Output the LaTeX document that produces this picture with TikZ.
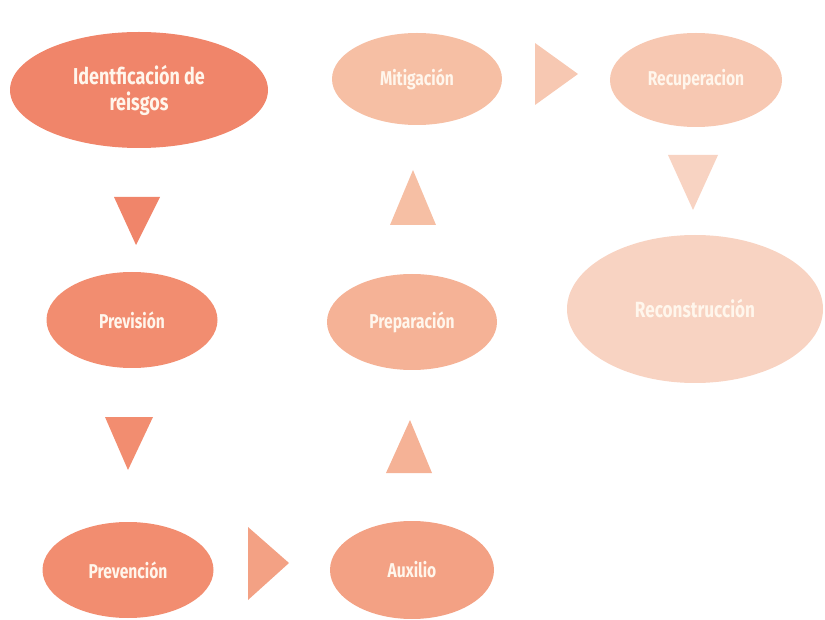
\documentclass[tikz,border=0pt]{standalone}
\usepackage{fontspec}
\setmainfont{Fira Sans}[FakeStretch=0.78]
\usetikzlibrary{shapes.geometric}
\definecolor{cA}{HTML}{F0856A}
\definecolor{cB}{HTML}{F28D70}
\definecolor{cC}{HTML}{F3A184}
\definecolor{cD}{HTML}{F5B296}
\definecolor{cE}{HTML}{F6BFA4}
\definecolor{cF}{HTML}{F7C8B2}
\definecolor{cG}{HTML}{F8D3C2}
\definecolor{tx}{HTML}{FFF6EC}
\tikzset{
  stage/.style={ellipse, inner sep=0pt, text=tx, align=center, font=\fontsize{20}{24}\selectfont\bfseries},
  tri/.style={draw=none}
}
\begin{document}
\begin{tikzpicture}[x=1pt,y=-1pt]
\useasboundingbox (0,0) rectangle (825,620);
\node[stage, fill=cA, minimum width=258, minimum height=116, font=\fontsize{23}{26}\selectfont\bfseries] (ident) at (139,90) {Identficación de\\reisgos};
\node[stage, fill=cB, minimum width=171, minimum height=96] (prevision) at (132,320) {Previsión};
\node[stage, fill=cB, minimum width=171, minimum height=96] (prevencion) at (128,570) {Prevención};
\node[stage, fill=cC, minimum width=164, minimum height=98] (auxilio) at (412,570) {Auxilio};
\node[stage, fill=cD, minimum width=170, minimum height=96] (preparacion) at (412,322) {Preparación};
\node[stage, fill=cE, minimum width=170, minimum height=92] (mitigacion) at (417,79) {Mitigación};
\node[stage, fill=cF, minimum width=172, minimum height=94] (recuperacion) at (696,80) {Recuperacion};
\node[stage, fill=cG, minimum width=256, minimum height=148, font=\fontsize{22}{26}\selectfont\bfseries] (reconstruccion) at (695,309) {Reconstrucción};
% arrow triangles
\fill[tri, fill=cA] (114,197) -- (160,197) -- (136,245) -- cycle;
\fill[tri, fill=cB] (105,417) -- (153,417) -- (128,470) -- cycle;
\fill[tri, fill=cC] (248,527) -- (248,600) -- (289,563) -- cycle;
\fill[tri, fill=cD] (386,473) -- (432,473) -- (410,420) -- cycle;
\fill[tri, fill=cE] (390,225) -- (436,225) -- (413,170) -- cycle;
\fill[tri, fill=cF] (535,43) -- (535,105) -- (578,74) -- cycle;
\fill[tri, fill=cG] (668,155) -- (718,155) -- (693,210) -- cycle;
\end{tikzpicture}
\end{document}
